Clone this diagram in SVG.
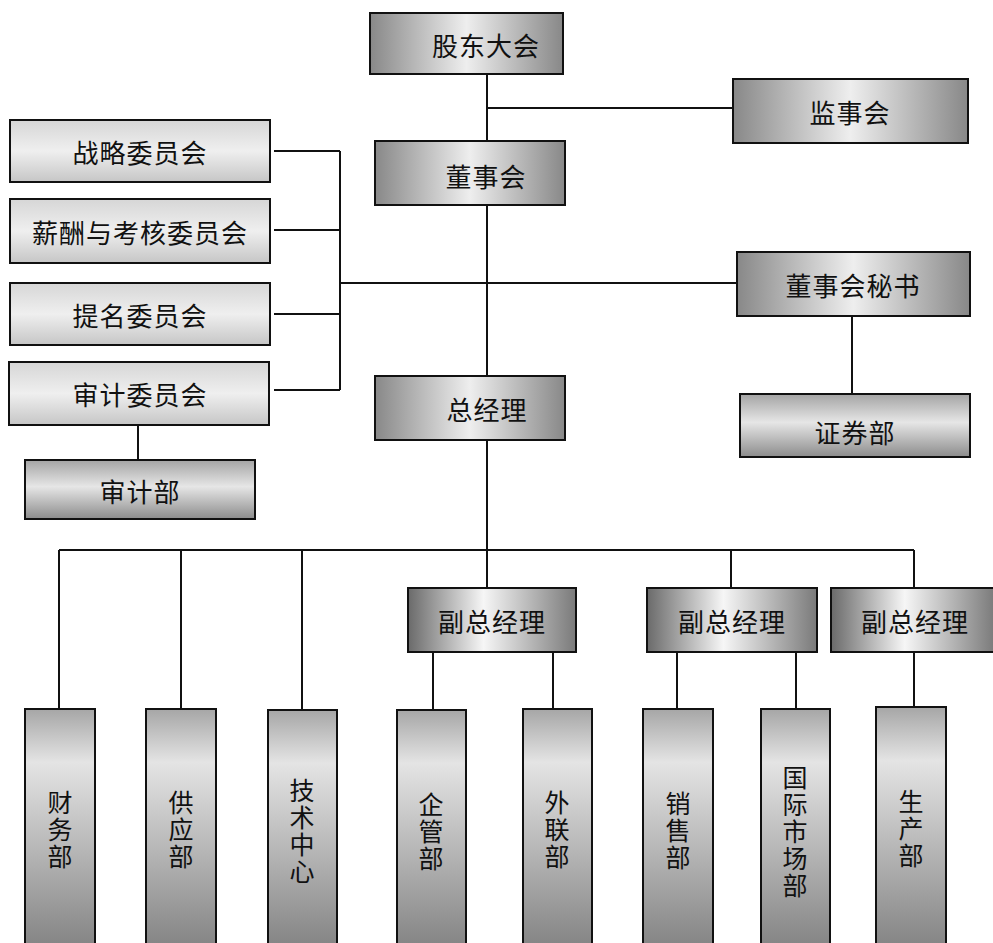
<svg xmlns="http://www.w3.org/2000/svg" width="993" height="943" viewBox="0 0 993 943">
<defs>
<linearGradient id="gDark" x1="0" y1="0" x2="1" y2="0">
<stop offset="0" stop-color="#888888"/><stop offset="0.5" stop-color="#eeeeee"/><stop offset="1" stop-color="#888888"/>
</linearGradient>
<linearGradient id="gLight" x1="0" y1="0" x2="0" y2="1">
<stop offset="0" stop-color="#d6d6d6"/><stop offset="0.5" stop-color="#efefef"/><stop offset="1" stop-color="#c6c6c6"/>
</linearGradient>
<linearGradient id="gDept" x1="0" y1="0" x2="0" y2="1">
<stop offset="0" stop-color="#a4a4a4"/><stop offset="0.45" stop-color="#e6e6e6"/><stop offset="1" stop-color="#8c8c8c"/>
</linearGradient>
<linearGradient id="gVice" x1="0" y1="0" x2="1" y2="0">
<stop offset="0" stop-color="#6a6a6a"/><stop offset="0.45" stop-color="#f6f6f6"/><stop offset="1" stop-color="#7a7a7a"/>
</linearGradient>
<linearGradient id="gCol" x1="0" y1="0" x2="0" y2="1">
<stop offset="0" stop-color="#a6a6a6"/><stop offset="0.22" stop-color="#e4e4e4"/><stop offset="1" stop-color="#828282"/>
</linearGradient>
</defs>
<style>
rect{stroke:#111;stroke-width:2}
.dark{fill:url(#gDark)}
.light{fill:url(#gLight)}
.dept{fill:url(#gDept)}
.vice{fill:url(#gVice)}
.col{fill:url(#gCol)}
text{font-family:"Noto Sans CJK SC","Noto Sans CJK JP",sans-serif;font-size:26px;fill:#111;text-anchor:middle;dominant-baseline:central;letter-spacing:1px}
.v{font-size:25px;letter-spacing:0}
#connectors path{fill:none;stroke:#111;stroke-width:2}
</style>
<rect width="993" height="943" fill="#fff" style="stroke:none"/>
<g id="connectors">
<path d="M487,74 V141 M487,108 H733 M487,205 V376"/>
<path d="M274,151 H340 M274,230 H340 M274,314 H340 M274,390 H340 M340,151 V390 M340,283 H737"/>
<path d="M138,425 V460 M852,316 V394"/>
<path d="M487,440 V588 M59,550 H914 M59,550 V709 M181,550 V709 M302,550 V710 M731,550 V588 M914,550 V588"/>
<path d="M433,652 V711 M553,652 V709 M677,652 V709 M796,652 V709 M914,652 V707"/>
</g>
<g id="gudongdahui"><rect class="dark" x="370" y="13" width="193" height="61"/><text x="486" y="44">股东大会</text></g>
<g id="jianshihui"><rect class="dark" x="733" y="79" width="235" height="64"/><text x="850" y="111">监事会</text></g>
<g id="dongshihui"><rect class="dark" x="375" y="141" width="190" height="64"/><text x="486" y="175">董事会</text></g>
<g id="zhanlue"><rect class="light" x="10" y="120" width="260" height="62"/><text x="140" y="151">战略委员会</text></g>
<g id="xinchou"><rect class="light" x="10" y="199" width="260" height="64"/><text x="140" y="231">薪酬与考核委员会</text></g>
<g id="timing"><rect class="light" x="10" y="283" width="260" height="62"/><text x="140" y="314">提名委员会</text></g>
<g id="shenjiweiyuanhui"><rect class="light" x="9" y="362" width="260" height="63"/><text x="140" y="393">审计委员会</text></g>
<g id="shenjibu"><rect class="dept" x="25" y="460" width="230" height="59"/><text x="140" y="490">审计部</text></g>
<g id="dongmi"><rect class="dark" x="737" y="252" width="233" height="64"/><text x="853" y="284">董事会秘书</text></g>
<g id="zhengquanbu"><rect class="dept" x="740" y="394" width="230" height="63"/><text x="855" y="431">证券部</text></g>
<g id="zongjingli"><rect class="dark" x="375" y="376" width="190" height="64"/><text x="487" y="408">总经理</text></g>
<g id="fu1"><rect class="vice" x="408" y="588" width="168" height="64"/><text x="492" y="620">副总经理</text></g>
<g id="fu2"><rect class="vice" x="647" y="588" width="170" height="64"/><text x="732" y="620">副总经理</text></g>
<g id="fu3"><rect class="vice" x="831" y="588" width="164" height="64"/><text x="915" y="620">副总经理</text></g>
<g id="caiwu"><rect class="col" x="25" y="709" width="70" height="242"/><text class="v" x="60"><tspan x="60" y="801">财</tspan><tspan x="60" y="828">务</tspan><tspan x="60" y="855">部</tspan></text></g>
<g id="gongying"><rect class="col" x="146" y="709" width="70" height="242"/><text class="v" x="181"><tspan x="181" y="801">供</tspan><tspan x="181" y="828">应</tspan><tspan x="181" y="855">部</tspan></text></g>
<g id="jishu"><rect class="col" x="268" y="710" width="69" height="241"/><text class="v" x="302"><tspan x="302" y="789">技</tspan><tspan x="302" y="816">术</tspan><tspan x="302" y="843">中</tspan><tspan x="302" y="870">心</tspan></text></g>
<g id="qiguan"><rect class="col" x="397" y="710" width="69" height="241"/><text class="v" x="431"><tspan x="431" y="803">企</tspan><tspan x="431" y="830">管</tspan><tspan x="431" y="857">部</tspan></text></g>
<g id="wailian"><rect class="col" x="523" y="709" width="69" height="242"/><text class="v" x="557"><tspan x="557" y="801">外</tspan><tspan x="557" y="828">联</tspan><tspan x="557" y="855">部</tspan></text></g>
<g id="xiaoshou"><rect class="col" x="643" y="709" width="70" height="242"/><text class="v" x="678"><tspan x="678" y="802">销</tspan><tspan x="678" y="829">售</tspan><tspan x="678" y="856">部</tspan></text></g>
<g id="guoji"><rect class="col" x="761" y="709" width="69" height="242"/><text class="v" x="795"><tspan x="795" y="776">国</tspan><tspan x="795" y="803">际</tspan><tspan x="795" y="830">市</tspan><tspan x="795" y="857">场</tspan><tspan x="795" y="884">部</tspan></text></g>
<g id="shengchan"><rect class="col" x="876" y="707" width="70" height="244"/><text class="v" x="911"><tspan x="911" y="800">生</tspan><tspan x="911" y="827">产</tspan><tspan x="911" y="854">部</tspan></text></g>
</svg>
